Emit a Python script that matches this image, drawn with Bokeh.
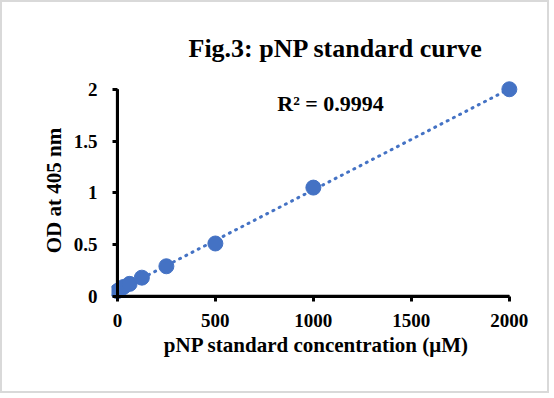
import numpy as np
from bokeh.plotting import figure
from bokeh.models import (Range1d, FixedTicker, NumeralTickFormatter, Label,
                          ColumnDataSource, LinearAxis)
from bokeh.embed import file_html
from bokeh.resources import INLINE

# Data
conc = [0, 15.625, 31.25, 62.5, 125, 250, 500, 1000, 2000]
od = [0.05, 0.07, 0.09, 0.12, 0.18, 0.29, 0.51, 1.05, 2.0]
x_ticks = [0, 500, 1000, 1500, 2000]
y_ticks = [0, 0.5, 1, 1.5, 2]
title_text = "Fig.3: pNP standard curve"
x_title = "pNP standard concentration (\u03bcM)"
y_title = "OD at 405 nm"
r2_text = "R\u00b2 = 0.9994"

FONT = "Liberation Serif"
BLUE = "#4472C4"
AXC = "black"

FW, FH = 410, 224
XR = (-30.0, 2062.0)
YR = (-0.06, 2.104)

p = figure(frame_width=FW, frame_height=FH,
           min_border_left=109, min_border_top=76, min_border_right=26, min_border_bottom=89,
           x_range=Range1d(*XR), y_range=Range1d(*YR),
           output_backend="svg", toolbar_location=None,
           background_fill_color="white", border_fill_color="white")
p.outline_line_color = None
p.grid.visible = False

p.title.text = title_text
p.title.text_font = FONT
p.title.text_font_size = "26px"
p.title.text_font_style = "bold"
p.title.align = "left"
p.title.offset = 77
p.title.standoff = 31
p.title.text_color = "black"

# label-only axes at the frame edges
for ax, ticks in ((p.xaxis[0], x_ticks), (p.yaxis[0], y_ticks)):
    ax.ticker = FixedTicker(ticks=ticks)
    ax.axis_line_color = None
    ax.major_tick_line_color = None
    ax.minor_tick_line_color = None
    ax.major_tick_out = 0
    ax.major_tick_in = 0
    ax.major_label_text_font = FONT
    ax.major_label_text_font_size = "19px"
    ax.major_label_text_font_style = "bold"
    ax.major_label_text_color = "black"
    ax.axis_label_text_font = FONT
    ax.axis_label_text_font_size = "21px"
    ax.axis_label_text_font_style = "bold"
    ax.axis_label_text_color = "black"

p.xaxis[0].formatter = NumeralTickFormatter(format="0")
p.yaxis[0].formatter = NumeralTickFormatter(format="0.[0]")
p.xaxis[0].axis_label = x_title
p.yaxis[0].axis_label = y_title
p.xaxis[0].major_label_standoff = 11
p.yaxis[0].major_label_standoff = 14
p.xaxis[0].axis_label_standoff = 3
p.yaxis[0].axis_label_standoff = 5

# line-and-tick axes placed at the data origin
def line_axis(ticks, origin):
    return LinearAxis(fixed_location=origin, bounds=(ticks[0], ticks[-1]),
                      ticker=FixedTicker(ticks=ticks),
                      axis_line_color=AXC, axis_line_width=3,
                      major_tick_line_color=AXC, major_tick_line_width=3,
                      major_tick_out=5, major_tick_in=0,
                      minor_tick_line_color=None,
                      major_label_text_font_size="0px", major_label_standoff=0,
                      major_label_text_alpha=0)

p.add_layout(line_axis(x_ticks, y_ticks[0]), "below")
p.add_layout(line_axis(y_ticks, x_ticks[0]), "left")

# axis lines also as glyphs, at the same place
x0, x1 = float(x_ticks[0]), float(x_ticks[-1])
y0, y1 = float(y_ticks[0]), float(y_ticks[-1])
p.multi_line(xs=[[x0, x1], [x0, x0]], ys=[[y0, y0], [y0, y1]],
             line_color=AXC, line_width=3)

# linear trendline
slope, intercept = np.polyfit(conc, od, 1)
tx = [float(min(conc)), float(max(conc))]
ty = [slope * v + intercept for v in tx]
p.line(tx, ty, line_color=BLUE, line_width=3, line_dash="1 6", line_cap="round")

src = ColumnDataSource(dict(x=[float(v) for v in conc], y=od))
p.scatter("x", "y", source=src, size=15, fill_color=BLUE, line_color=BLUE)

p.add_layout(Label(x=816, y=1.865, text=r2_text, text_font=FONT, text_font_size="22px",
                   text_font_style="bold", text_baseline="middle", text_color="black"))

p.styles = {"border": "2px solid #d9d9d9"}

open("out.html", "w").write(file_html(p, INLINE))
